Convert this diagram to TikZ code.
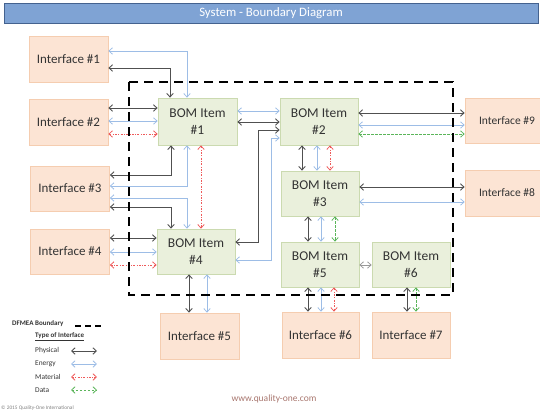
\documentclass[tikz,border=0pt]{standalone}
\usepackage{fontspec}
\setmainfont{Carlito}
\usetikzlibrary{arrows.meta}
\definecolor{ifacef}{HTML}{FCE4D4}
\definecolor{ifaceb}{HTML}{F5CDB0}
\definecolor{bomf}{HTML}{EAF0DC}
\definecolor{bomb}{HTML}{CBDAB0}
\definecolor{txt}{HTML}{333333}
\definecolor{physc}{HTML}{505050}
\definecolor{enerc}{HTML}{9DBDE6}
\definecolor{matc}{HTML}{EE5A5A}
\definecolor{datac}{HTML}{5BB55A}
\definecolor{titlef}{HTML}{7FA3D4}
\definecolor{titleb}{HTML}{44628F}
\definecolor{webc}{HTML}{A8766E}
\begin{document}
\begin{tikzpicture}[x=1pt,y=-1pt,
  barb/.tip={Straight Barb[length=3.5pt,width=6.5pt]},
  iface/.style={draw=ifaceb, fill=ifacef, line width=0.8pt, minimum width=79pt, minimum height=46pt, inner sep=0pt, font=\fontsize{13}{15}\selectfont, text=txt},
  bom/.style={draw=bomb, fill=bomf, line width=0.8pt, minimum width=78pt, minimum height=46pt, inner sep=0pt, align=center, font=\fontsize{13.5}{17}\selectfont, text=txt},
  physline/.style={draw=physc, line width=0.9pt, barb-barb},
  enerline/.style={draw=enerc, line width=0.8pt, barb-barb},
  matline/.style={draw=matc, line width=0.8pt, dash pattern=on 2pt off 1.5pt on 0.6pt off 1.5pt, barb-barb},
  dataline/.style={draw=datac, line width=0.8pt, dash pattern=on 2.5pt off 1.5pt, barb-barb},
  lightline/.style={draw=gray!80, line width=0.8pt, barb-barb},
  boundary/.style={draw=black, line width=2.6pt, dash pattern=on 9pt off 6pt},
  legtxt/.style={font=\fontsize{7.4}{9}\selectfont, text=txt, inner sep=0pt, anchor=west}
]
\useasboundingbox (0,0) rectangle (540,414);
% title
\node[draw=titleb, fill=titlef, line width=0.8pt, minimum width=534pt, minimum height=20pt, inner sep=0pt, text=white, font=\fontsize{12.8}{14}\selectfont] (title) at (271,13.5) {System - Boundary Diagram};
% interfaces
\node[iface] (I1) at (68.5,59) {Interface \#1};
\node[iface] (I2) at (68.5,122) {Interface \#2};
\node[iface, minimum height=45pt] (I3) at (70,188.5) {Interface \#3};
\node[iface, minimum height=45pt] (I4) at (70,251.5) {Interface \#4};
\node[iface] (I5) at (199.5,336) {Interface \#5};
\node[iface, minimum width=77pt] (I6) at (320.5,335) {Interface \#6};
\node[iface, minimum width=78pt] (I7) at (411,335) {Interface \#7};
\node[iface, minimum width=84pt, font=\fontsize{11.5}{13}\selectfont] (I8) at (507,193) {Interface \#8};
\node[iface, minimum width=84pt, minimum height=45pt, font=\fontsize{11.5}{13}\selectfont] (I9) at (507,120.5) {Interface \#9};
% BOM items
\node[bom, minimum width=79pt, minimum height=47pt] (B1) at (197.5,121.5) {BOM Item\\\#1};
\node[bom, minimum height=47pt] (B2) at (319,121.5) {BOM Item\\\#2};
\node[bom, minimum height=45pt] (B3) at (320,193.5) {BOM Item\\\#3};
\node[bom, minimum height=45pt] (B4) at (196,251.5) {BOM Item\\\#4};
\node[bom, minimum height=45pt] (B5) at (320,264.5) {BOM Item\\\#5};
\node[bom, minimum height=45pt] (B6) at (411,264.5) {BOM Item\\\#6};
% connectors: interface 1
\draw[enerline] (I1.east |- 0,51) -| (187,0 |- B1.north);
\draw[physline] (I1.east |- 0,68) -| (170,0 |- B1.north);
% interface 2
\draw[physline] (I2.east |- 0,108) -- (B1.west |- 0,108);
\draw[enerline] (I2.east |- 0,121) -- (B1.west |- 0,121);
\draw[matline] (I2.east |- 0,134) -- (B1.west |- 0,134);
% B1 - B2
\draw[enerline] (B1.east |- 0,111) -- (B2.west |- 0,111);
\draw[physline] (B1.east |- 0,122) -- (B2.west |- 0,122);
% B1 - I3
\draw[physline] (171,0 |- B1.south) |- (I3.east |- 0,175);
\draw[enerline] (187,0 |- B1.south) |- (I3.east |- 0,186);
% B1 - B4
\draw[matline] (201,0 |- B1.south) -- (201,0 |- B4.north);
% I3 - B4
\draw[enerline] (I3.east |- 0,198) -| (187,0 |- B4.north);
\draw[physline] (I3.east |- 0,207) -| (171,0 |- B4.north);
% I4 - B4
\draw[physline] (I4.east |- 0,238) -- (B4.west |- 0,238);
\draw[enerline] (I4.east |- 0,252) -- (B4.west |- 0,252);
\draw[matline] (I4.east |- 0,265) -- (B4.west |- 0,265);
% B4 - B2
\draw[physline] (B4.east |- 0,242) -| (258,130) -- (B2.west |- 0,130);
\draw[enerline] (B4.east |- 0,260) -| (271,138) -- (B2.west |- 0,138);
% B4 - I5
\draw[physline] (189,0 |- B4.south) -- (189,0 |- I5.north);
\draw[enerline] (207,0 |- B4.south) -- (207,0 |- I5.north);
% B2 - I9
\draw[physline] (B2.east |- 0,113) -- (I9.west |- 0,113);
\draw[enerline] (B2.east |- 0,125) -- (I9.west |- 0,125);
\draw[dataline] (B2.east |- 0,134) -- (I9.west |- 0,134);
% B2 - B3
\draw[physline] (302,0 |- B2.south) -- (302,0 |- B3.north);
\draw[enerline] (317,0 |- B2.south) -- (317,0 |- B3.north);
\draw[matline] (330,0 |- B2.south) -- (330,0 |- B3.north);
% B3 - I8
\draw[physline] (B3.east |- 0,187) -- (I8.west |- 0,187);
\draw[enerline] (B3.east |- 0,202) -- (I8.west |- 0,202);
% B3 - B5
\draw[physline] (308,0 |- B3.south) -- (308,0 |- B5.north);
\draw[enerline] (321,0 |- B3.south) -- (321,0 |- B5.north);
\draw[dataline] (335,0 |- B3.south) -- (335,0 |- B5.north);
% B5 - B6
\draw[lightline] (B5.east |- 0,265) -- (B6.west |- 0,265);
% B5 - I6
\draw[physline] (308,0 |- B5.south) -- (308,0 |- I6.north);
\draw[enerline] (321,0 |- B5.south) -- (321,0 |- I6.north);
\draw[matline] (334,0 |- B5.south) -- (334,0 |- I6.north);
% B6 - I7
\draw[physline] (407,0 |- B6.south) -- (407,0 |- I7.north);
\draw[dataline] (416,0 |- B6.south) -- (416,0 |- I7.north);
% boundary
\draw[boundary] (129,82) rectangle (453,295);
% legend
\node[legtxt, font=\bfseries\fontsize{7}{8}\selectfont] (lgB) at (12,324) {DFMEA Boundary};
\coordinate (lbA) at (75,326);
\coordinate (lbB) at (102,326);
\draw[draw=black, line width=1.8pt, dash pattern=on 6pt off 4pt] (lbA) -- (lbB);
\node[legtxt, font=\bfseries\fontsize{7}{8}\selectfont] (lgT) at (35,337) {\underline{Type of Interface}};
\node[legtxt] (lgP) at (35,351) {Physical};
\node[legtxt] (lgE) at (35,364) {Energy};
\node[legtxt] (lgM) at (35,377) {Material};
\node[legtxt] (lgD) at (35,390) {Data};
\coordinate (lpA) at (71,351); \coordinate (lpB) at (97,351);
\coordinate (leA) at (71,364); \coordinate (leB) at (97,364);
\coordinate (lmA) at (71,377); \coordinate (lmB) at (97,377);
\coordinate (ldA) at (71,390); \coordinate (ldB) at (97,390);
\draw[physline] (lpA) -- (lpB);
\draw[enerline] (leA) -- (leB);
\draw[matline] (lmA) -- (lmB);
\draw[dataline] (ldA) -- (ldB);
\node[font=\fontsize{9.5}{11}\selectfont, text=webc] (web) at (274,399) {www.quality-one.com};
\node[anchor=west, inner sep=0pt, font=\fontsize{5.3}{6}\selectfont, text=gray] (copy) at (1,408) {© 2015 Quality-One International};
\end{tikzpicture}
\end{document}
